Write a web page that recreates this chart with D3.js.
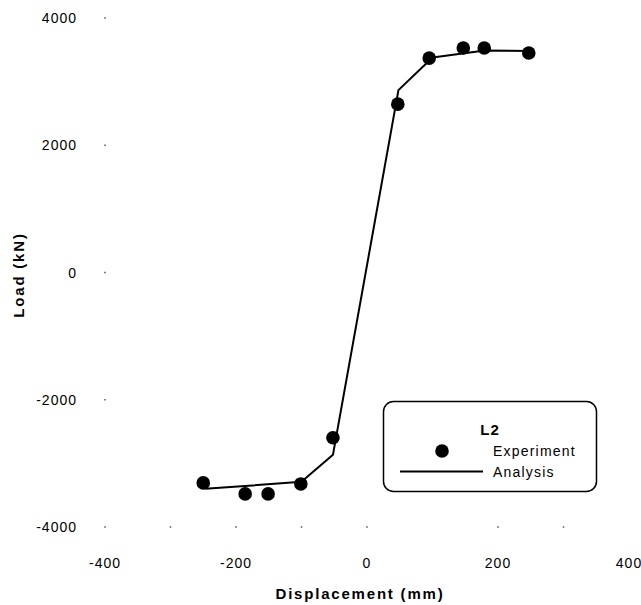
<!DOCTYPE html>
<html><head><meta charset="utf-8">
<script src="https://cdn.jsdelivr.net/npm/d3@7/dist/d3.min.js"></script>
<style>body{margin:0;background:#fff}svg{display:block}</style>
</head><body>
<svg id="c" width="641" height="605"></svg>
<script>
const expDisp = [-250, -186, -151, -101, -52, 47, 95, 147, 179, 247];
const expLoad = [-3307, -3480, -3480, -3323, -2598, 2646, 3370, 3528, 3528, 3449];
const anaDisp = [-247, -100, -52, 48, 100, 180, 250];
const anaLoad = [-3400, -3290, -2866, 2866, 3380, 3490, 3480];
const xTicks = [-400, -200, 0, 200, 400];
const xMinor = [-400, -300, -200, -100, 0, 200, 300];
const yTicks = [-4000, -2000, 0, 2000, 4000];
const legendTitle = "L2";
const seriesNames = ["Experiment", "Analysis"];

const svg = d3.select("#c");
const x = d3.scaleLinear().domain([-400, 400]).range([105, 629]);
const y = d3.scaleLinear().domain([-4000, 4000]).range([527, 18]);
const font = "'Liberation Sans', Arial, sans-serif";

// faint axis dots
svg.selectAll(".xd").data(xMinor).enter().append("rect")
  .attr("x", d => x(d) - 0.75).attr("y", y(-4000) - 0.75).attr("width", 1.5).attr("height", 1.5).attr("fill", "#555");
svg.selectAll(".yd").data(yTicks.filter(d => d > -4000)).enter().append("rect")
  .attr("x", x(-400) - 0.75).attr("y", d => y(d) - 0.75).attr("width", 1.5).attr("height", 1.5).attr("fill", "#555");

// tick labels
svg.selectAll(".xl").data(xTicks).enter().append("text")
  .attr("x", d => x(d)).attr("y", 568).attr("text-anchor", "middle")
  .attr("font-family", font).attr("font-size", 14).attr("letter-spacing", 1).text(d => d);
svg.selectAll(".yl").data(yTicks).enter().append("text")
  .attr("x", 77).attr("y", d => y(d) + 5).attr("text-anchor", "end")
  .attr("font-family", font).attr("font-size", 14).attr("letter-spacing", 1).text(d => d);

// axis titles
svg.append("text").attr("x", 360).attr("y", 599).attr("text-anchor", "middle")
  .attr("font-family", font).attr("font-size", 15).attr("font-weight", "bold").attr("letter-spacing", 1.8)
  .text("Displacement (mm)");
svg.append("text").attr("transform", "translate(24,275) rotate(-90)").attr("text-anchor", "middle")
  .attr("font-family", font).attr("font-size", 15).attr("font-weight", "bold").attr("letter-spacing", 1.8)
  .text("Load (kN)");

// analysis line
const anaData = anaDisp.map((d, i) => [d, anaLoad[i]]);
svg.append("path").datum(anaData)
  .attr("d", d3.line().x(d => x(d[0])).y(d => y(d[1])))
  .attr("fill", "none").attr("stroke", "#000").attr("stroke-width", 2).attr("stroke-linejoin", "round");

// experiment points
const expData = expDisp.map((d, i) => [d, expLoad[i]]);
svg.selectAll(".pt").data(expData).enter().append("circle")
  .attr("cx", d => x(d[0])).attr("cy", d => y(d[1])).attr("r", 6.8).attr("fill", "#000");

// legend
const lg = svg.append("g");
lg.append("rect").attr("x", 383.5).attr("y", 401.5).attr("width", 213).attr("height", 90).attr("rx", 10)
  .attr("fill", "#fff").attr("stroke", "#000").attr("stroke-width", 1.5);
lg.append("text").attr("x", 490).attr("y", 435).attr("text-anchor", "middle")
  .attr("font-family", font).attr("font-size", 15).attr("font-weight", "bold").attr("letter-spacing", 1).text(legendTitle);
lg.append("circle").attr("cx", 442).attr("cy", 451).attr("r", 6.8).attr("fill", "#000");
lg.append("text").attr("x", 493).attr("y", 456).attr("font-family", font).attr("font-size", 14).attr("letter-spacing", 1.2).text(seriesNames[0]);
lg.append("line").attr("x1", 400).attr("x2", 483).attr("y1", 471.5).attr("y2", 471.5).attr("stroke", "#000").attr("stroke-width", 2);
lg.append("text").attr("x", 493).attr("y", 477).attr("font-family", font).attr("font-size", 14).attr("letter-spacing", 1.2).text(seriesNames[1]);
</script>
</body></html>
